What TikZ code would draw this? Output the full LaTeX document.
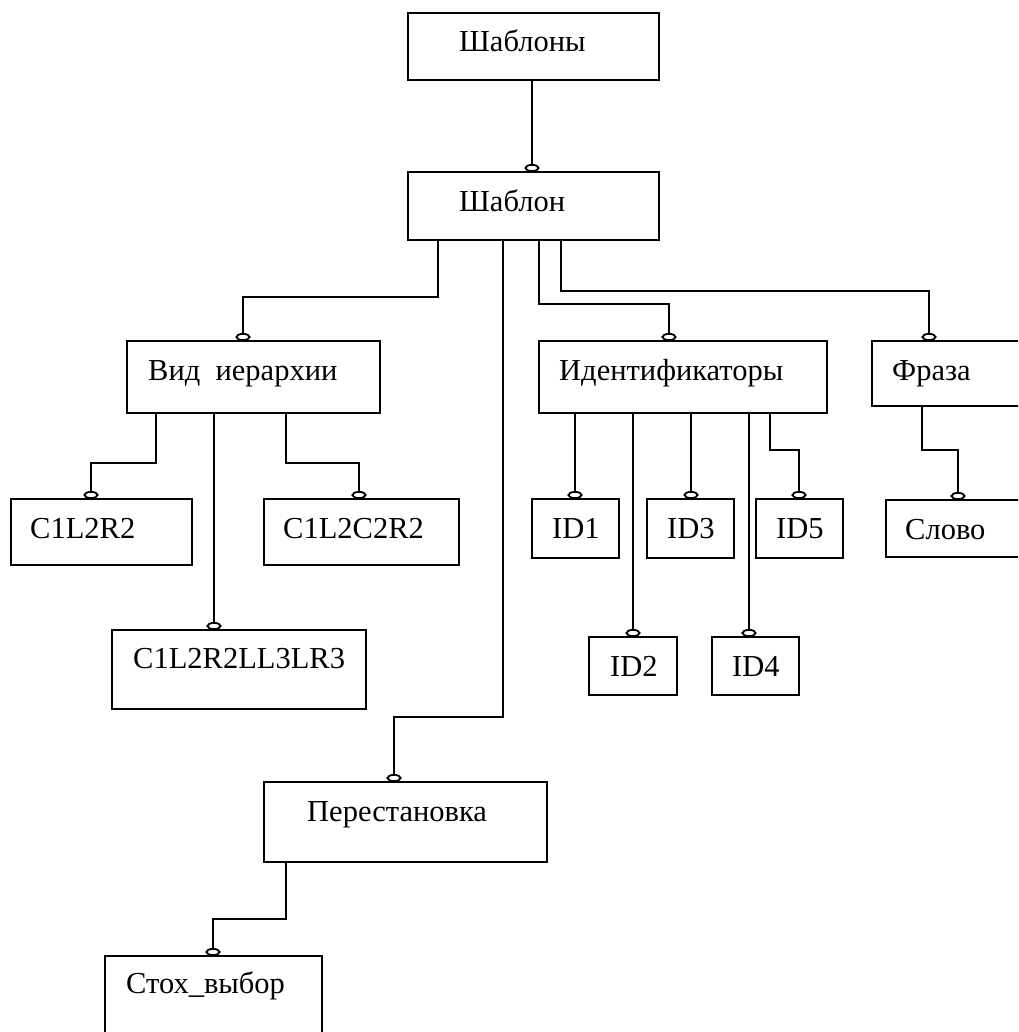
\documentclass[tikz,border=0pt]{standalone}
\usepackage{fontspec}
\setmainfont{Liberation Serif}
\usepackage{tikz}
\usetikzlibrary{arrows.meta}
\tikzset{
  link/.style={-{Circle[length=8pt, width=15pt, fill=white]}, line width=1.8pt, draw=black},
  ent/.style={draw=black, line width=1.8pt, rectangle, anchor=north west, inner sep=0pt, outer sep=0pt},
  txt/.style={anchor=base west, inner sep=0pt, font=\fontsize{30.5pt}{36pt}\selectfont}
}

\begin{document}
\begin{tikzpicture}[x=1pt, y=-1pt]
  \useasboundingbox (0,0) rectangle (1018,1032);
  \clip (0,0) rectangle (1018,1032);
  % boxes
  \node[ent, minimum width=251pt, minimum height=67pt] (shablony) at (408,13) {};
  \node[ent, minimum width=251pt, minimum height=68pt] (shablon) at (408,172) {};
  \node[ent, minimum width=253pt, minimum height=72pt] (vid) at (127,341) {};
  \node[ent, minimum width=288pt, minimum height=72pt] (ident) at (539,341) {};
  \node[ent, minimum width=160pt, minimum height=65pt] (fraza) at (872,341) {};
  \node[ent, minimum width=181pt, minimum height=66pt] (cA) at (11,499) {};
  \node[ent, minimum width=195pt, minimum height=66pt] (cB) at (264,499) {};
  \node[ent, minimum width=254pt, minimum height=79pt] (cC) at (112,630) {};
  \node[ent, minimum width=87pt, minimum height=59pt] (idA) at (532,499) {};
  \node[ent, minimum width=87pt, minimum height=59pt] (idC) at (647,499) {};
  \node[ent, minimum width=87pt, minimum height=59pt] (idE) at (756,499) {};
  \node[ent, minimum width=88pt, minimum height=58pt] (idB) at (589,637) {};
  \node[ent, minimum width=87pt, minimum height=58pt] (idD) at (712,637) {};
  \node[ent, minimum width=150pt, minimum height=57pt] (slovo) at (886,500) {};
  \node[ent, minimum width=283pt, minimum height=80pt] (perest) at (264,782) {};
  \node[ent, minimum width=217pt, minimum height=100pt] (stokh) at (105,956) {};
  % texts
  \node[txt] (shablonyT) at ([xshift=51pt, yshift=-39pt]shablony.north west) {Шаблоны};
  \node[txt] (shablonT) at ([xshift=51pt, yshift=-40pt]shablon.north west) {Шаблон};
  \node[txt] (vidT) at ([xshift=21pt, yshift=-39pt]vid.north west) {Вид\ \ иерархии};
  \node[txt] (identT) at ([xshift=20pt, yshift=-39pt]ident.north west) {Идентификаторы};
  \node[txt] (frazaT) at ([xshift=20pt, yshift=-39pt]fraza.north west) {Фраза};
  \node[txt] (cAT) at ([xshift=19pt, yshift=-39pt]cA.north west) {C1L2R2};
  \node[txt] (cBT) at ([xshift=19pt, yshift=-39pt]cB.north west) {C1L2C2R2};
  \node[txt] (cCT) at ([xshift=21pt, yshift=-38pt]cC.north west) {C1L2R2LL3LR3};
  \node[txt] (idAT) at ([xshift=20pt, yshift=-39pt]idA.north west) {ID1};
  \node[txt] (idCT) at ([xshift=20pt, yshift=-39pt]idC.north west) {ID3};
  \node[txt] (idET) at ([xshift=20pt, yshift=-39pt]idE.north west) {ID5};
  \node[txt] (idBT) at ([xshift=21pt, yshift=-39pt]idB.north west) {ID2};
  \node[txt] (idDT) at ([xshift=20pt, yshift=-39pt]idD.north west) {ID4};
  \node[txt] (slovoT) at ([xshift=19pt, yshift=-39pt]slovo.north west) {Слово};
  \node[txt] (perestT) at ([xshift=43pt, yshift=-39pt]perest.north west) {Перестановка};
  \node[txt] (stokhT) at ([xshift=21pt, yshift=-37pt]stokh.north west) {Стох\_выбор};
  % links
  \draw[link] ([xshift=124pt]shablony.south west) -- ([xshift=124pt]shablon.north west);
  \draw[link] ([xshift=30pt]shablon.south west) -- ++(0,57) -| ([xshift=116pt]vid.north west);
  \draw[link] ([xshift=95pt]shablon.south west) -- ++(0,477) -| ([xshift=130pt]perest.north west);
  \draw[link] ([xshift=131pt]shablon.south west) -- ++(0,64) -| ([xshift=130pt]ident.north west);
  \draw[link] ([xshift=153pt]shablon.south west) -- ++(0,51) -| ([xshift=57pt]fraza.north west);
  \draw[link] ([xshift=29pt]vid.south west) -- ++(0,50) -| ([xshift=80pt]cA.north west);
  \draw[link] ([xshift=87pt]vid.south west) -- ([xshift=102pt]cC.north west);
  \draw[link] ([xshift=159pt]vid.south west) -- ++(0,50) -| ([xshift=95pt]cB.north west);
  \draw[link] ([xshift=36pt]ident.south west) -- ([xshift=43pt]idA.north west);
  \draw[link] ([xshift=94pt]ident.south west) -- ([xshift=44pt]idB.north west);
  \draw[link] ([xshift=152pt]ident.south west) -- ([xshift=44pt]idC.north west);
  \draw[link] ([xshift=210pt]ident.south west) -- ([xshift=37pt]idD.north west);
  \draw[link] ([xshift=231pt]ident.south west) -- ++(0,37) -| ([xshift=43pt]idE.north west);
  \draw[link] ([xshift=50pt]fraza.south west) -- ++(0,44) -| ([xshift=72pt]slovo.north west);
  \draw[link] ([xshift=22pt]perest.south west) -- ++(0,57) -| ([xshift=108pt]stokh.north west);
\end{tikzpicture}
\end{document}
